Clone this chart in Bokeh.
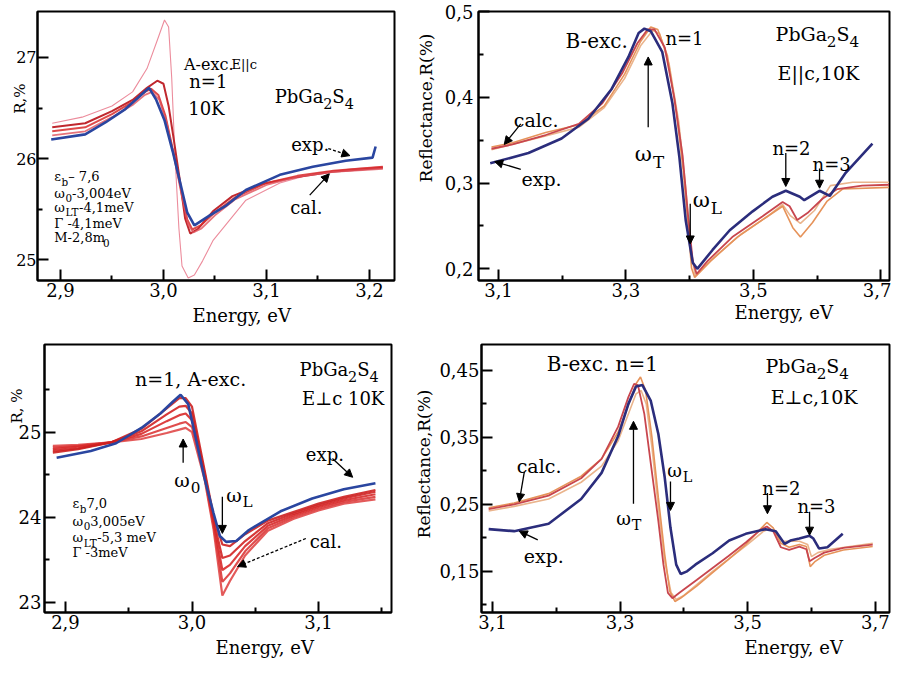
from bokeh.plotting import figure
from bokeh.layouts import column, row
from bokeh.models import Label, Arrow, NormalHead, FixedTicker, CustomJSTickFormatter, Title
from bokeh.embed import file_html
from bokeh.resources import INLINE

FONT = "DejaVu Serif"

# ---------------- Panel A (top-left): A-exciton, E||c ----------------
a_xticks = [2.9, 3.0, 3.1, 3.2]
a_xminor = [2.95, 3.05, 3.15]
a_yticks = [25, 26, 27]
a_yminor = [25.5, 26.5]

a_exp_x = [2.891, 2.924, 2.944, 2.963, 2.975, 2.986, 2.993, 3.001, 3.009, 3.017, 3.023, 3.030,
           3.045, 3.060, 3.080, 3.113, 3.145, 3.177, 3.203, 3.206]
a_exp_y = [26.19, 26.24, 26.36, 26.49, 26.60, 26.70, 26.58, 26.38, 26.07, 25.73, 25.47, 25.34,
           25.44, 25.53, 25.69, 25.84, 25.92, 25.98, 26.01, 26.12]

a_calA_x = [2.892, 2.924, 2.950, 2.970, 2.984, 2.994, 3.000, 3.005, 3.010, 3.016, 3.021, 3.026,
            3.034, 3.048, 3.067, 3.096, 3.125, 3.164, 3.213]
a_calA_y = [26.31, 26.35, 26.47, 26.58, 26.70, 26.77, 26.74, 26.52, 26.19, 25.78, 25.41, 25.26,
            25.31, 25.48, 25.63, 25.75, 25.81, 25.87, 25.91]
a_calB_x = [2.892, 2.924, 2.950, 2.970, 2.982, 2.988, 2.995, 3.002, 3.010, 3.017, 3.023, 3.028,
            3.036, 3.050, 3.070, 3.100, 3.130, 3.165, 3.213]
a_calB_y = [26.27, 26.31, 26.44, 26.56, 26.66, 26.69, 26.63, 26.42, 26.05, 25.70, 25.40, 25.30,
            25.34, 25.47, 25.62, 25.76, 25.83, 25.88, 25.92]
a_calC_x = [2.892, 2.924, 2.950, 2.970, 2.982, 2.989, 2.996, 3.003, 3.011, 3.018, 3.024, 3.029,
            3.037, 3.050, 3.070, 3.100, 3.130, 3.165, 3.213]
a_calC_y = [26.23, 26.27, 26.41, 26.53, 26.63, 26.66, 26.58, 26.36, 25.98, 25.62, 25.35, 25.27,
            25.31, 25.44, 25.60, 25.74, 25.82, 25.87, 25.90]
a_thin_x = [2.892, 2.921, 2.950, 2.970, 2.984, 2.994, 3.001, 3.005, 3.008, 3.011, 3.015, 3.018,
            3.024, 3.030, 3.038, 3.048, 3.080, 3.113, 3.145, 3.183, 3.213]
a_thin_y = [26.35, 26.41, 26.52, 26.66, 26.89, 27.17, 27.37, 27.30, 26.80, 26.06, 25.31, 24.94,
            24.82, 24.85, 24.99, 25.19, 25.59, 25.76, 25.85, 25.90, 25.92]

# ---------------- Panel B (top-right): B-exciton, E||c ----------------
b_xticks = [3.1, 3.3, 3.5, 3.7]
b_xminor = [3.2, 3.4, 3.6]
b_yticks = [0.2, 0.3, 0.4, 0.5]
b_yminor = [0.25, 0.35, 0.45]

b_exp_x = [3.087, 3.147, 3.199, 3.241, 3.277, 3.304, 3.320, 3.329, 3.339, 3.357, 3.373, 3.384,
           3.394, 3.405, 3.412, 3.436, 3.463, 3.499, 3.530, 3.551, 3.573, 3.580, 3.604, 3.620,
           3.645, 3.687]
b_exp_y = [0.323, 0.335, 0.352, 0.375, 0.409, 0.447, 0.475, 0.480, 0.477, 0.453, 0.393, 0.330,
           0.256, 0.207, 0.200, 0.222, 0.245, 0.267, 0.284, 0.291, 0.284, 0.280, 0.291, 0.285,
           0.312, 0.346]

b_c1_x = [3.089, 3.122, 3.174, 3.226, 3.263, 3.295, 3.318, 3.334, 3.345, 3.361, 3.376, 3.389,
          3.398, 3.405, 3.411, 3.428, 3.467, 3.514, 3.546, 3.557, 3.569, 3.585, 3.609, 3.632,
          3.671, 3.713]
b_c1_y = [0.340, 0.345, 0.356, 0.369, 0.393, 0.429, 0.463, 0.479, 0.479, 0.458, 0.399, 0.332,
          0.259, 0.209, 0.194, 0.209, 0.237, 0.261, 0.278, 0.273, 0.257, 0.265, 0.282, 0.293,
          0.297, 0.298]
b_c2_x = [3.089, 3.122, 3.174, 3.226, 3.266, 3.298, 3.323, 3.339, 3.350, 3.365, 3.379, 3.390,
          3.398, 3.403, 3.408, 3.433, 3.475, 3.518, 3.546, 3.562, 3.574, 3.593, 3.616, 3.640,
          3.713]
b_c2_y = [0.342, 0.347, 0.359, 0.368, 0.390, 0.427, 0.465, 0.482, 0.479, 0.449, 0.384, 0.315,
          0.248, 0.201, 0.190, 0.209, 0.237, 0.259, 0.273, 0.248, 0.237, 0.254, 0.279, 0.293,
          0.295]
b_c3_x = [3.089, 3.174, 3.226, 3.266, 3.298, 3.323, 3.342, 3.353, 3.368, 3.383, 3.394, 3.402,
          3.409, 3.436, 3.480, 3.522, 3.546, 3.558, 3.574, 3.596, 3.621, 3.656, 3.713]
b_c3_y = [0.339, 0.355, 0.365, 0.388, 0.422, 0.460, 0.478, 0.474, 0.438, 0.371, 0.293, 0.220,
          0.192, 0.212, 0.240, 0.261, 0.275, 0.262, 0.253, 0.268, 0.297, 0.301, 0.301]

# ---------------- Panel C (bottom-left): A-exciton, E perp c ----------------
c_xticks = [2.9, 3.0, 3.1]
c_xminor = [2.95, 3.05, 3.15]
c_yticks = [23, 24, 25]
c_yminor = [23.5, 24.5, 25.5]

c_exp_x = [2.893, 2.920, 2.940, 2.960, 2.975, 2.985, 2.991, 2.997, 3.002, 3.010, 3.017, 3.022,
           3.027, 3.035, 3.045, 3.070, 3.095, 3.120, 3.145]
c_exp_y = [24.70, 24.78, 24.87, 25.05, 25.22, 25.36, 25.44, 25.33, 25.00, 24.45, 24.05, 23.78,
           23.71, 23.72, 23.85, 24.07, 24.22, 24.33, 24.40]

c_cal_x = [2.890, 2.910, 2.936, 2.960, 2.980, 2.990, 2.995, 3.000, 3.010, 3.017, 3.024, 3.030,
           3.042, 3.060, 3.080, 3.100, 3.120, 3.145]
c_cal1_y = [24.76, 24.80, 24.88, 25.04, 25.28, 25.40, 25.40, 25.30, 24.55, 24.02, 23.68, 23.66,
            23.80, 23.96, 24.06, 24.16, 24.24, 24.32]
c_cal2_y = [24.78, 24.81, 24.88, 25.01, 25.21, 25.30, 25.31, 25.22, 24.52, 23.98, 23.52, 23.55,
            23.72, 23.93, 24.04, 24.14, 24.22, 24.30]
c_cal3_y = [24.80, 24.83, 24.88, 24.98, 25.13, 25.20, 25.22, 25.14, 24.50, 23.94, 23.38, 23.44,
            23.66, 23.90, 24.02, 24.12, 24.20, 24.27]
c_cal4_y = [24.82, 24.84, 24.88, 24.95, 25.05, 25.10, 25.12, 25.06, 24.47, 23.90, 23.24, 23.34,
            23.60, 23.87, 24.00, 24.10, 24.18, 24.24]
c_cal5_y = [24.84, 24.85, 24.88, 24.92, 24.99, 25.03, 25.05, 25.00, 24.44, 23.86, 23.08, 23.25,
            23.55, 23.84, 23.98, 24.08, 24.16, 24.21]

# ---------------- Panel D (bottom-right): B-exciton, E perp c ----------------
d_xticks = [3.1, 3.3, 3.5, 3.7]
d_xminor = [3.2, 3.4, 3.6]
d_yticks = [0.15, 0.25, 0.35, 0.45]
d_yminor = [0.1, 0.2, 0.3, 0.4]

d_exp_x = [3.094, 3.134, 3.188, 3.239, 3.271, 3.297, 3.313, 3.325, 3.335, 3.348, 3.360, 3.370,
           3.379, 3.388, 3.395, 3.405, 3.418, 3.445, 3.471, 3.497, 3.528, 3.544, 3.558, 3.567,
           3.581, 3.597, 3.603, 3.612, 3.625, 3.649]
d_exp_y = [0.213, 0.210, 0.221, 0.258, 0.297, 0.352, 0.400, 0.426, 0.428, 0.405, 0.355, 0.290,
           0.215, 0.160, 0.146, 0.150, 0.160, 0.177, 0.196, 0.206, 0.213, 0.210, 0.191, 0.196,
           0.199, 0.203, 0.199, 0.184, 0.186, 0.206]

d_c1_x = [3.094, 3.134, 3.188, 3.239, 3.271, 3.297, 3.313, 3.322, 3.328, 3.338, 3.349, 3.360,
          3.368, 3.375, 3.382, 3.393, 3.420, 3.445, 3.470, 3.497, 3.520, 3.530, 3.540, 3.552,
          3.565, 3.581, 3.592, 3.597, 3.605, 3.620, 3.650, 3.696]
d_c1_y = [0.243, 0.250, 0.263, 0.289, 0.318, 0.366, 0.410, 0.430, 0.428, 0.385, 0.305, 0.225,
          0.160, 0.118, 0.110, 0.118, 0.137, 0.155, 0.173, 0.193, 0.212, 0.217, 0.210, 0.186,
          0.182, 0.187, 0.183, 0.165, 0.170, 0.178, 0.185, 0.190]
d_c2_x = [3.094, 3.134, 3.188, 3.239, 3.271, 3.297, 3.313, 3.325, 3.332, 3.340, 3.350, 3.360,
          3.370, 3.378, 3.386, 3.395, 3.420, 3.445, 3.470, 3.497, 3.520, 3.530, 3.540, 3.552,
          3.565, 3.581, 3.592, 3.598, 3.606, 3.620, 3.650, 3.696]
d_c2_y = [0.245, 0.252, 0.266, 0.292, 0.318, 0.358, 0.398, 0.430, 0.440, 0.420, 0.350, 0.260,
          0.175, 0.120, 0.105, 0.110, 0.128, 0.148, 0.168, 0.190, 0.213, 0.223, 0.215, 0.192,
          0.186, 0.190, 0.187, 0.157, 0.165, 0.174, 0.182, 0.187]
d_c3_x = [3.094, 3.134, 3.188, 3.239, 3.271, 3.297, 3.313, 3.325, 3.333, 3.341, 3.350, 3.360,
          3.370, 3.380, 3.388, 3.400, 3.445, 3.497, 3.525, 3.535, 3.545, 3.555, 3.581, 3.594,
          3.600, 3.610, 3.630, 3.696]
d_c3_y = [0.240, 0.247, 0.258, 0.283, 0.307, 0.345, 0.385, 0.415, 0.420, 0.400, 0.335, 0.245,
          0.165, 0.118, 0.108, 0.114, 0.150, 0.188, 0.210, 0.214, 0.205, 0.195, 0.195, 0.190,
          0.172, 0.178, 0.183, 0.192]

# ---------------- styling helpers ----------------
BLUE1 = "#2a46a0"
BLUE2 = "#2b2d7c"
RED = "#d82a2a"
DARKRED = "#c0282e"
PINK = "#ec8c9c"
C_RED = "#c8464e"
C_ORANGE = "#e6935a"
C_TAN = "#eab48c"

CW = {"0": .636, "1": .636, "2": .636, "3": .636, "4": .636, "5": .636, "6": .636, "7": .636,
      "8": .636, "9": .636, ",": .318, ".": .318, " ": .318, "-": .339, "\u2013": .5, "=": .838,
      "A": .722, "B": .735, "E": .715, "G": .770, "K": .75, "L": .637, "M": .875, "P": .686,
      "S": .685, "T": .670, "V": .722, "a": .596, "b": .640, "c": .552, "e": .592, "h": .642,
      "l": .320, "m": .948, "n": .642, "p": .640, "x": .562, "|": .337, "\u03b5": .56,
      "\u03c9": .86, "\u0393": .66, "\u22a5": .84}


def tw(s, fs):
    return sum(CW.get(ch, 0.6) for ch in s) * fs


def txt(p, x, y, parts, fs=18):
    off = 0.0
    for t, sub in parts:
        size = fs * (0.8 if sub else 1.0)
        p.add_layout(Label(x=x, y=y, x_offset=off, y_offset=(-0.38 * fs if sub else 0),
                           text=t, text_font=FONT, text_font_size=f"{size:.1f}px",
                           text_color="black", text_baseline="alphabetic", text_align="left"))
        off += tw(t, size)


def titles(p, ytext, y_off, y_std, yfs, xtext, x_off, x_std, xfs=18):
    t1 = Title(text=ytext, align="right", vertical_align="bottom", offset=y_off, standoff=y_std,
               text_font=FONT, text_font_size=f"{yfs}px", text_color="black")
    t1.text_font_style = "normal"
    p.add_layout(t1, "left")
    t2 = Title(text=xtext, align="left", vertical_align="bottom", offset=x_off, standoff=x_std,
               text_font=FONT, text_font_size=f"{xfs}px", text_color="black")
    t2.text_font_style = "normal"
    p.add_layout(t2, "below")


def arr(p, x0, y0, x1, y1, dash="solid", lw=1.3, size=8):
    p.add_layout(Arrow(end=NormalHead(size=size, fill_color="black", line_color="black", line_width=1),
                       x_start=x0, y_start=y0, x_end=x1, y_end=y1,
                       line_color="black", line_width=lw, line_dash=dash))


def make(width, height, xr, yr, mb, xt, xm, yt, ym, xd, yd, ystand, xlfs=18, ylfs=18):
    p = figure(width=width, height=height, x_range=xr, y_range=yr, output_backend="svg",
               toolbar_location=None, min_border_left=mb[0], min_border_right=mb[1],
               min_border_top=mb[2], min_border_bottom=mb[3])
    p.xaxis.ticker = FixedTicker(ticks=xt, minor_ticks=xm)
    p.yaxis.ticker = FixedTicker(ticks=yt, minor_ticks=ym)
    p.xaxis.formatter = CustomJSTickFormatter(code=f"return tick.toFixed({xd}).replace('.', ',');")
    p.yaxis.formatter = CustomJSTickFormatter(code=f"return tick.toFixed({yd}).replace('.', ',');")
    for ax, fs in ((p.xaxis[0], xlfs), (p.yaxis[0], ylfs)):
        ax.major_tick_in = 11
        ax.major_tick_out = 0
        ax.minor_tick_in = 5
        ax.minor_tick_out = 0
        ax.axis_line_width = 2
        ax.axis_line_color = "black"
        ax.major_tick_line_width = 2
        ax.minor_tick_line_width = 2
        ax.major_tick_line_color = "black"
        ax.minor_tick_line_color = "black"
        ax.major_label_text_font = FONT
        ax.major_label_text_font_size = f"{fs}px"
        ax.major_label_text_color = "black"
    p.xaxis.major_label_standoff = 2
    p.yaxis.major_label_standoff = ystand
    p.xgrid.visible = False
    p.ygrid.visible = False
    p.outline_line_color = "black"
    p.outline_line_width = 2
    p.outline_line_alpha = 1
    p.background_fill_color = "white"
    p.border_fill_color = "white"
    return p


# ---------------- Panel A ----------------
p1 = make(403, 336, (2.8777, 3.2243), (24.796, 27.454), (37, 9, 1, 56),
          a_xticks, a_xminor, a_yticks, a_yminor, 1, 0, 1, 18, 16)
titles(p1, "R,%", 72, -30, 15, "Energy, eV", 155, 6)
p1.line(a_thin_x, a_thin_y, line_color=PINK, line_width=1.1)
p1.line(a_calA_x, a_calA_y, line_color=DARKRED, line_width=2.0)
p1.line(a_calB_x, a_calB_y, line_color=RED, line_width=2.0, line_alpha=0.85)
p1.line(a_calC_x, a_calC_y, line_color="#e0505a", line_width=1.8, line_alpha=0.8)
p1.line(a_exp_x, a_exp_y, line_color=BLUE1, line_width=2.6)

txt(p1, 3.020, 26.93, [("A-exc.", False)], fs=16)
txt(p1, 3.066, 26.93, [("E||c", False)], fs=13)
txt(p1, 3.025, 26.76, [("n=1", False)], fs=18)
txt(p1, 3.024, 26.50, [("10K", False)], fs=18)
txt(p1, 3.108, 26.61, [("PbGa", False), ("2", True), ("S", False), ("4", True)], fs=18)
txt(p1, 3.124, 26.14, [("exp.", False)], fs=18)
arr(p1, 3.160, 26.10, 3.181, 26.03, dash="3 2")
txt(p1, 3.123, 25.52, [("cal.", False)], fs=18)
arr(p1, 3.142, 25.64, 3.161, 25.85)
txt(p1, 2.894, 25.82, [("\u03b5", False), ("b", True), ("\u2013  7,6", False)], fs=13)
txt(p1, 2.894, 25.66, [("\u03c9", False), ("0", True), (" -3,004eV", False)], fs=13)
txt(p1, 2.894, 25.52, [("\u03c9", False), ("LT", True), (" -4,1meV", False)], fs=13)
txt(p1, 2.894, 25.36, [("\u0393  -4,1meV", False)], fs=13)
txt(p1, 2.894, 25.22, [("M-2,8m", False), ("0", True)], fs=13)

# ---------------- Panel B ----------------
p2 = make(488, 336, (3.0686, 3.7138), (0.1864, 0.5000), (75, 2, 11, 56),
          b_xticks, b_xminor, b_yticks, b_yminor, 1, 1, 5)
titles(p2, "Reflectance,R(%)", 22, 12, 17, "Energy, eV", 256, 0)
p2.line(b_c3_x, b_c3_y, line_color=C_TAN, line_width=1.6)
p2.line(b_c2_x, b_c2_y, line_color=C_ORANGE, line_width=1.6)
p2.line(b_c1_x, b_c1_y, line_color=C_RED, line_width=1.8)
p2.line(b_exp_x, b_exp_y, line_color=BLUE2, line_width=2.6)

txt(p2, 3.205, 0.466, [("B-exc.", False)], fs=20)
txt(p2, 3.362, 0.468, [("n=1", False)], fs=18)
txt(p2, 3.535, 0.474, [("PbGa", False), ("2", True), ("S", False), ("4", True)], fs=19)
txt(p2, 3.538, 0.428, [("E||c,10K", False)], fs=19)
txt(p2, 3.124, 0.373, [("calc.", False)], fs=19)
arr(p2, 3.135, 0.369, 3.109, 0.345)
txt(p2, 3.136, 0.305, [("exp.", False)], fs=19)
arr(p2, 3.135, 0.316, 3.094, 0.325)
txt(p2, 3.314, 0.334, [("\u03c9", False), ("T", True)], fs=21)
arr(p2, 3.335, 0.365, 3.335, 0.447)
txt(p2, 3.405, 0.280, [("\u03c9", False), ("L", True)], fs=21)
arr(p2, 3.401, 0.276, 3.401, 0.229)
txt(p2, 3.530, 0.340, [("n=2", False)], fs=18)
arr(p2, 3.551, 0.335, 3.551, 0.296)
txt(p2, 3.593, 0.322, [("n=3", False)], fs=18)
arr(p2, 3.604, 0.317, 3.604, 0.294)

# ---------------- Panel C ----------------
p3 = make(400, 332, (2.8834, 3.1577), (22.88, 26.031), (44, 9, 8, 56),
          c_xticks, c_xminor, c_yticks, c_yminor, 1, 0, 3)
titles(p3, "R, %", 44, -20, 15, "Energy, eV", 171, 6)
for ys, col in ((c_cal5_y, "#e04848"), (c_cal4_y, "#dc3a3a"), (c_cal3_y, RED),
                (c_cal2_y, "#d22424"), (c_cal1_y, "#cc2020")):
    p3.line(c_cal_x, ys, line_color=col, line_width=2.2, line_alpha=0.9)
p3.line(c_exp_x, c_exp_y, line_color=BLUE1, line_width=2.6)

txt(p3, 2.955, 25.62, [("n=1, A-exc.", False)], fs=19)
txt(p3, 3.085, 25.74, [("PbGa", False), ("2", True), ("S", False), ("4", True)], fs=18)
txt(p3, 3.087, 25.40, [("E\u22a5c 10K", False)], fs=18)
txt(p3, 2.986, 24.44, [("\u03c9", False), ("0", True)], fs=19)
arr(p3, 2.993, 24.64, 2.993, 24.92)
txt(p3, 3.027, 24.26, [("\u03c9", False), ("L", True)], fs=19)
arr(p3, 3.024, 24.24, 3.024, 23.81)
txt(p3, 3.090, 24.74, [("exp.", False)], fs=18)
arr(p3, 3.111, 24.69, 3.127, 24.47)
txt(p3, 3.093, 23.72, [("cal.", False)], fs=18)
arr(p3, 3.090, 23.75, 3.036, 23.42, dash="3 2")
txt(p3, 2.9055, 24.16, [("\u03b5", False), ("b", True), ("   7,0", False)], fs=13)
txt(p3, 2.9055, 23.95, [("\u03c9", False), ("0", True), ("  3,005eV", False)], fs=13)
txt(p3, 2.9055, 23.76, [("\u03c9", False), ("LT", True), ("-5,3 meV", False)], fs=13)
txt(p3, 2.9055, 23.59, [("\u0393  -3meV", False)], fs=13)

# ---------------- Panel D ----------------
p4 = make(491, 332, (3.0828, 3.7223), (0.0886, 0.4886), (81, 2, 1, 56),
          d_xticks, d_xminor, d_yticks, d_yminor, 1, 2, 2)
titles(p4, "Reflectance,R(%)", 45, 5, 17, "Energy, eV", 263, 6)
p4.line(d_c3_x, d_c3_y, line_color=C_TAN, line_width=1.6)
p4.line(d_c2_x, d_c2_y, line_color=C_ORANGE, line_width=1.6)
p4.line(d_c1_x, d_c1_y, line_color=C_RED, line_width=1.8)
p4.line(d_exp_x, d_exp_y, line_color=BLUE2, line_width=2.6)

txt(p4, 3.185, 0.460, [("B-exc. n=1", False)], fs=20)
txt(p4, 3.528, 0.456, [("PbGa", False), ("2", True), ("S", False), ("4", True)], fs=19)
txt(p4, 3.536, 0.410, [("E\u22a5c,10K", False)], fs=19)
txt(p4, 3.138, 0.307, [("calc.", False)], fs=19)
arr(p4, 3.150, 0.299, 3.142, 0.254)
txt(p4, 3.149, 0.173, [("exp.", False)], fs=19)
arr(p4, 3.171, 0.197, 3.142, 0.210)
txt(p4, 3.294, 0.229, [("\u03c9", False), ("T", True)], fs=18)
arr(p4, 3.321, 0.251, 3.321, 0.374)
txt(p4, 3.374, 0.301, [("\u03c9", False), ("L", True)], fs=18)
arr(p4, 3.379, 0.284, 3.379, 0.241)
txt(p4, 3.523, 0.274, [("n=2", False)], fs=18)
arr(p4, 3.531, 0.267, 3.531, 0.236)
txt(p4, 3.578, 0.247, [("n=3", False)], fs=18)
arr(p4, 3.597, 0.239, 3.597, 0.204)

layout = column(row(p1, p2), row(p3, p4))
open("out.html", "w").write(file_html(layout, INLINE))
